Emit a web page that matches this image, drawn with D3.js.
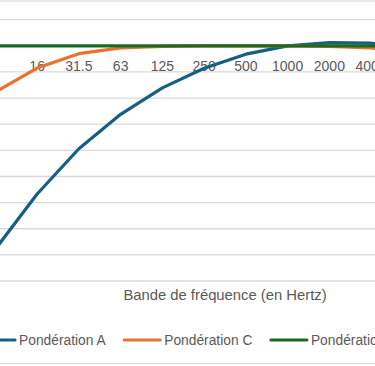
<!DOCTYPE html>
<html><head><meta charset="utf-8">
<script src="https://cdn.jsdelivr.net/npm/d3@7"></script>
<style>
html,body{margin:0;padding:0;background:#fff;overflow:hidden;}
svg{display:block;font-family:"Liberation Sans",Arial,sans-serif;}
</style></head>
<body>
<script>
const categories = ["8","16","31.5","63","125","250","500","1000","2000","4000","8000","16000"];
const ponderationA = [-77.8,-56.7,-39.4,-26.2,-16.1,-8.6,-3.2,0,1.2,1.0,-1.1,-6.6];
const ponderationC = [-17.7,-8.5,-3.0,-0.8,-0.2,0,0,0,-0.2,-0.8,-3.0,-8.5];
const ponderationZ = [0,0,0,0,0,0,0,0,0,0,0,0];
const seriesNames = ["Pondération A","Pondération C","Pondération Z"];
const seriesColors = ["#156082","#E97132","#196B24"];
const yTicks = [-90,-80,-70,-60,-50,-40,-30,-20,-10,0,10];
const xTitle = "Bande de fréquence (en Hertz)";

const W = 375, H = 366;
const svg = d3.select("body").append("svg").attr("width", W).attr("height", H);

// chart border (outside area cropped)
svg.append("rect").attr("x",-40.5).attr("y",1).attr("width",560).attr("height",362.5)
  .attr("fill","#fff").attr("stroke","#d9d9d9").attr("stroke-width",1.2);

const x = d3.scaleBand().domain(categories).range([-25.5, 475.5]);
const y = d3.scaleLinear().domain([-90, 10]).range([281, 19.7]);
const cx = c => x(c) + x.bandwidth()/2;

// gridlines
svg.append("g").selectAll("line").data(yTicks).join("line")
  .attr("x1",-25.5).attr("x2",475.5)
  .attr("y1",d=>y(d)).attr("y2",d=>y(d))
  .attr("stroke","#d9d9d9").attr("stroke-width",1.3);

// category axis at 0
const xAxis = d3.axisBottom(x).tickSize(0).tickPadding(0);
const gx = svg.append("g").attr("transform",`translate(0,${y(0)})`).call(xAxis);
gx.select(".domain").attr("stroke","#d9d9d9").attr("stroke-width",1.3);
gx.selectAll("text").attr("fill","#595959").attr("font-size","14px")
  .attr("font-family","Liberation Sans, Arial, sans-serif")
  .attr("dy","0").attr("y",25);

// lines
const seriesData = [ponderationA, ponderationC, ponderationZ];
const line = d3.line().x((d,i)=>cx(categories[i])).y(d=>y(d));
svg.append("g").selectAll("path").data(seriesData).join("path")
  .attr("d", line).attr("fill","none")
  .attr("stroke",(d,i)=>seriesColors[i]).attr("stroke-width",3.2)
  .attr("stroke-linejoin","round").attr("stroke-linecap","round");

// axis title
svg.append("text").attr("x",225).attr("y",300).attr("text-anchor","middle")
  .attr("fill","#595959").attr("font-size","14.8px").text(xTitle);

// legend
const lg = svg.append("g");
let lx = -21;
seriesNames.forEach((n,i)=>{
  const g = lg.append("g").attr("transform",`translate(${lx},340)`);
  g.append("line").attr("x1",0).attr("x2",36).attr("y1",0).attr("y2",0)
    .attr("stroke",seriesColors[i]).attr("stroke-width",3.2).attr("stroke-linecap","round");
  const t = g.append("text").attr("x",40).attr("y",5).attr("fill","#595959")
    .attr("font-size","13.8px").text(n);
  const w = t.node().getComputedTextLength();
  lx += 40 + w + 18.5;
});
</script>
</body></html>
